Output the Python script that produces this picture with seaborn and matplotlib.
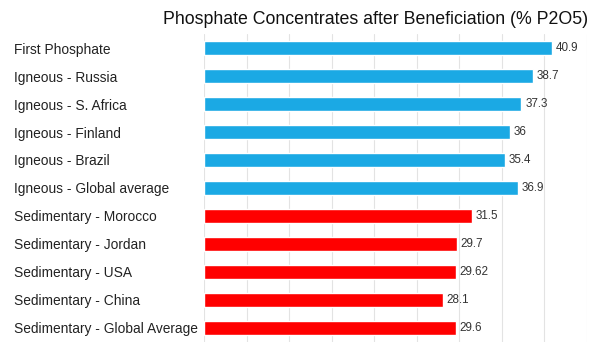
import seaborn as sns
import pandas as pd
import matplotlib.pyplot as plt

# data
sources = ["First Phosphate", "Igneous - Russia", "Igneous - S. Africa",
           "Igneous - Finland", "Igneous - Brazil", "Igneous - Global average",
           "Sedimentary - Morocco", "Sedimentary - Jordan", "Sedimentary - USA",
           "Sedimentary - China", "Sedimentary - Global Average"]
p2o5 = [40.9, 38.7, 37.3, 36, 35.4, 36.9, 31.5, 29.7, 29.62, 28.1, 29.6]
value_labels = ["40.9", "38.7", "37.3", "36", "35.4", "36.9",
                "31.5", "29.7", "29.62", "28.1", "29.6"]
rock_type = ["Igneous"] * 6 + ["Sedimentary"] * 5

df = pd.DataFrame({"Source": sources, "P2O5": p2o5, "Type": rock_type})

sns.set_theme(style="white")
plt.rcParams['font.family'] = ['Liberation Sans', 'DejaVu Sans']

fig = plt.figure(figsize=(6, 3.55), dpi=100)
ax = fig.add_axes([0.34, 0.037, 0.638, 0.867])

plot = sns.barplot(
    x="P2O5",
    y="Source",
    hue="Type",
    data=df,
    palette={"Igneous": "#1BA9E4", "Sedimentary": "#FF0000"},
    saturation=1,
    width=0.52,
    dodge=False,
    legend=False,
    ax=ax)

ax.set_xlim(0, 45)
ax.set_xticks(range(0, 46, 5))
ax.set_xticklabels([])
ax.tick_params(axis="x", length=0)
ax.grid(axis="x", color="#e3e3e3", linewidth=0.8)
ax.set_axisbelow(True)
for s in ax.spines.values():
    s.set_visible(False)

ax.set_xlabel("")
ax.set_ylabel("")
ax.tick_params(axis="y", length=0, pad=137, labelsize=9.9, labelcolor="#222222")
for lab in ax.get_yticklabels():
    lab.set_ha("left")

for i, (v, t) in enumerate(zip(p2o5, value_labels)):
    ax.text(v + 0.45, i, t, va="center", ha="left", fontsize=8.4, color="#333333")

fig.text(0.98, 0.945, "Phosphate Concentrates after Beneficiation (% P2O5)",
         ha="right", va="center", fontsize=12.8, color="#111111")

fig.savefig("out.png", dpi=100)
